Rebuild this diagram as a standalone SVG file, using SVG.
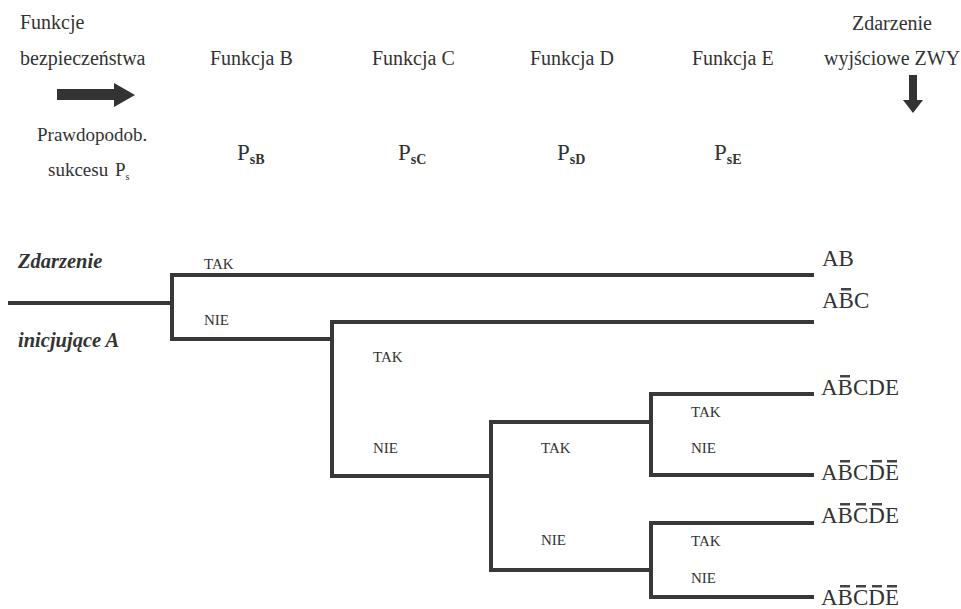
<svg xmlns="http://www.w3.org/2000/svg" width="961" height="609" viewBox="0 0 961 609" font-family="'Liberation Serif', 'Times New Roman', Times, serif">
<style>
text{font-family:'Liberation Serif','Times New Roman',Times,serif;fill:#333}
.h{font-size:20px}
.p{font-size:19px}
.ps{font-size:23px}
.sub{font-size:14px;font-weight:bold}
.lab{font-size:15px}
.out{font-size:23px}
.ev{font-size:20.5px;font-weight:bold;font-style:italic}
.ln{fill:none;stroke:#383838;stroke-width:4;stroke-linejoin:miter;stroke-linecap:square}
.arr{fill:#333}
.bar{fill:#444}
</style>
<rect width="961" height="609" fill="#fff"/>
<g id="header">
<text class="h" x="20" y="29">Funkcje</text>
<text class="h" x="20" y="65">bezpieczeństwa</text>
<path class="arr" d="M57,89 H114 V83 L135,95 L114,107 V100 H57 Z"/>
<text class="p" x="37" y="141">Prawdopodob.</text>
<text class="p" x="48" y="176">sukcesu <tspan x="115">P</tspan><tspan font-size="10" dy="4">s</tspan></text>
<text class="h" x="210" y="65">Funkcja B</text>
<text class="h" x="372" y="65">Funkcja C</text>
<text class="h" x="530" y="65">Funkcja D</text>
<text class="h" x="692" y="65">Funkcja E</text>
<text class="h" x="852" y="30">Zdarzenie</text>
<text class="h" x="824" y="65">wyjściowe ZWY</text>
<path class="arr" d="M909,75 H917 V100 H923 L913,113 L903,100 H909 Z"/>
<text class="ps" x="237" y="160">P<tspan class="sub" dy="4">sB</tspan></text>
<text class="ps" x="398" y="160">P<tspan class="sub" dy="4">sC</tspan></text>
<text class="ps" x="557" y="160">P<tspan class="sub" dy="4">sD</tspan></text>
<text class="ps" x="714" y="160">P<tspan class="sub" dy="4">sE</tspan></text>
</g>
<g id="initiating-event">
<text class="ev" x="18" y="268">Zdarzenie</text>
<text class="ev" x="18" y="347">inicjujące A</text>
</g>
<g id="connectors">
<path class="ln" d="M10,303 H172"/>
<path class="ln" d="M812,275 H172 V339 H332"/>
<path class="ln" d="M812,322 H332 V476 H491"/>
<path class="ln" d="M651,422 H491 V570 H651"/>
<path class="ln" d="M812,394 H651 V475 H812"/>
<path class="ln" d="M812,523 H651 V597 H812"/>
</g>
<g id="branch-B">
<text class="lab" x="204" y="269">TAK</text>
<text class="lab" x="204" y="325">NIE</text>
</g>
<g id="branch-C">
<text class="lab" x="373" y="362">TAK</text>
<text class="lab" x="373" y="453">NIE</text>
</g>
<g id="branch-D">
<text class="lab" x="541" y="453">TAK</text>
<text class="lab" x="541" y="545">NIE</text>
</g>
<g id="branch-E1">
<text class="lab" x="691" y="417">TAK</text>
<text class="lab" x="691" y="453">NIE</text>
</g>
<g id="branch-E2">
<text class="lab" x="691" y="546">TAK</text>
<text class="lab" x="691" y="583">NIE</text>
</g>
<g id="outcomes">
<text class="out" x="822" y="266">AB</text>
<text class="out" x="822" y="308">ABC</text>
<rect class="bar" x="841" y="288" width="10" height="2.5"/>
<text class="out" x="821" y="395">ABCDE</text>
<rect class="bar" x="840" y="375" width="10" height="2.5"/>
<text class="out" x="821" y="480">ABCDE</text>
<rect class="bar" x="840" y="460" width="10" height="2.5"/>
<rect class="bar" x="872" y="460" width="10" height="2.5"/>
<rect class="bar" x="887" y="460" width="10" height="2.5"/>
<text class="out" x="821" y="523">ABCDE</text>
<rect class="bar" x="840" y="503" width="10" height="2.5"/>
<rect class="bar" x="856" y="503" width="10" height="2.5"/>
<rect class="bar" x="872" y="503" width="10" height="2.5"/>
<text class="out" x="821" y="605">ABCDE</text>
<rect class="bar" x="840" y="585" width="10" height="2.5"/>
<rect class="bar" x="856" y="585" width="10" height="2.5"/>
<rect class="bar" x="872" y="585" width="10" height="2.5"/>
<rect class="bar" x="887" y="585" width="10" height="2.5"/>
</g>
</svg>
